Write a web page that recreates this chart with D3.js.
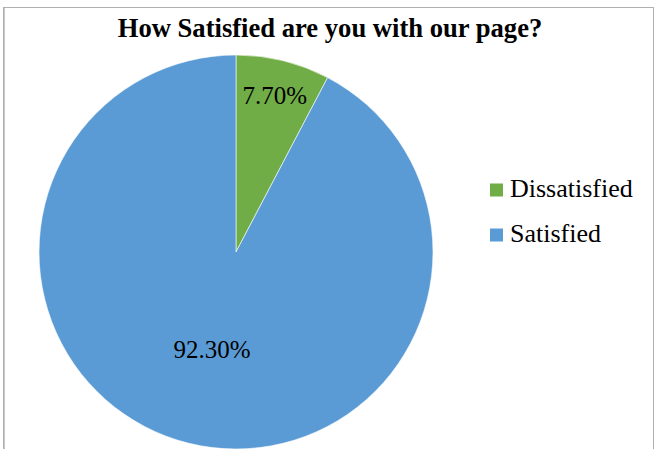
<!DOCTYPE html>
<html><head><meta charset="utf-8">
<script src="https://cdn.jsdelivr.net/npm/d3@7"></script>
<style>body{margin:0;background:#fff}svg{display:block}
text{font-family:"Liberation Serif","Times New Roman",Times,"DejaVu Serif",serif}</style>
</head><body>
<script>
const categories = ["Dissatisfied", "Satisfied"];
const values = [7.7, 92.3];
const labels = ["7.70%", "92.30%"];
const colors = ["#70AD47", "#5B9BD5"];
const title = "How Satisfied are you with our page?";

const W = 657, H = 449;
const svg = d3.select("body").append("svg").attr("width", W).attr("height", H);
svg.append("rect").attr("x", 3.5).attr("y", 7.5).attr("width", 650).attr("height", 460)
  .attr("fill", "#fff").attr("stroke", "#b0b0b0").attr("stroke-width", 1);
svg.append("line").attr("x1", 4.5).attr("x2", 4.5).attr("y1", 8).attr("y2", H)
  .attr("stroke", "#c8c8c8").attr("stroke-width", 1);

svg.append("text").attr("x", 330).attr("y", 37).attr("text-anchor", "middle")
  .style("font-weight", "bold").style("font-size", "26.6px").attr("fill", "#000").text(title);

const cx = 236, cy = 252, r = 197;
const pie = d3.pie().sort(null).value(d => d)(values);
const arc = d3.arc().innerRadius(0).outerRadius(r);
const g = svg.append("g").attr("transform", `translate(${cx},${cy})`);
g.selectAll("path").data(pie).join("path")
  .attr("d", arc).attr("fill", (d, i) => colors[i])
  .attr("stroke", "#fff").attr("stroke-width", 0.6);

const labelArc = [d3.arc().innerRadius(r * 0.82).outerRadius(r * 0.82),
                  d3.arc().innerRadius(r * 0.51).outerRadius(r * 0.51)];
g.selectAll("text.lbl").data(pie).join("text").attr("class", "lbl")
  .attr("transform", (d, i) => `translate(${labelArc[i].centroid(d)})`)
  .attr("text-anchor", "middle").attr("dominant-baseline", "central")
  .style("font-size", "25px").attr("fill", "#000")
  .text((d, i) => labels[i]);

const leg = svg.append("g");
categories.forEach((c, i) => {
  const y = 196.5 + i * 45;
  leg.append("rect").attr("x", 490).attr("y", y - 13).attr("width", 13).attr("height", 13).attr("fill", colors[i]);
  leg.append("text").attr("x", 510).attr("y", y)
    .style("font-size", "26px").attr("fill", "#000").text(c);
});
</script>
</body></html>
